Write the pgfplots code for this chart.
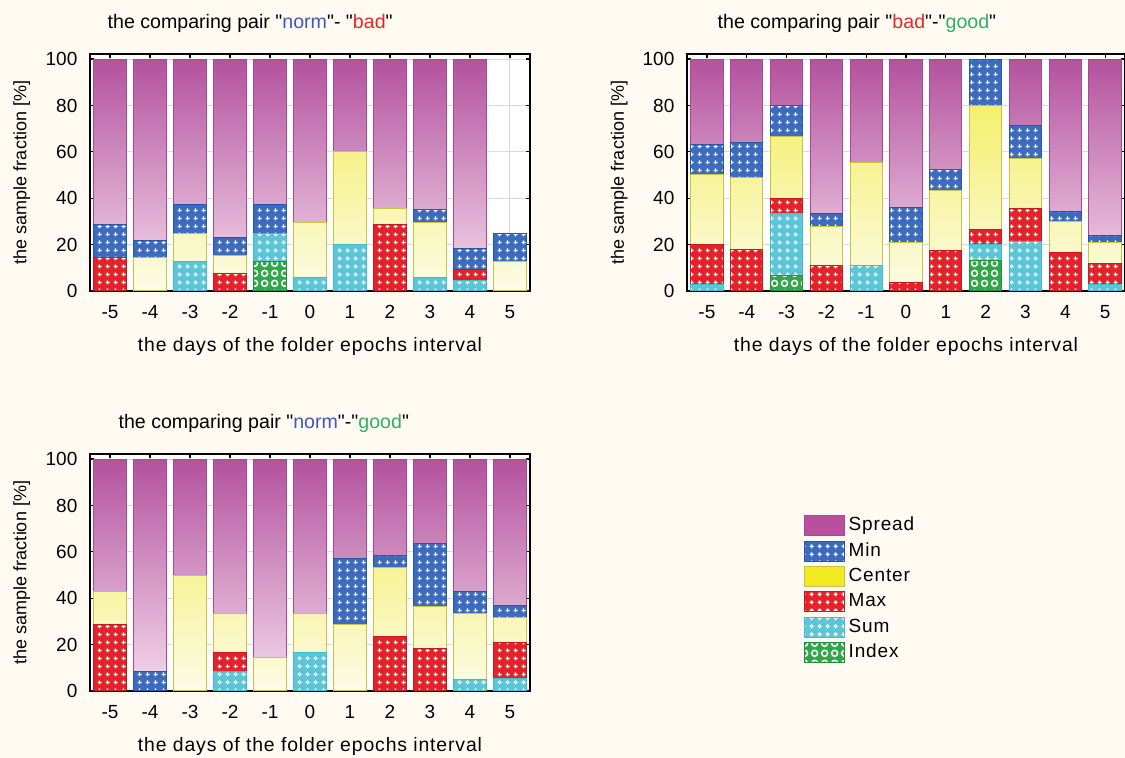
\documentclass[border=0pt]{standalone}
\usepackage{fontspec}
\setmainfont{Liberation Sans}[Ligatures=TeXOff]
\newfontfamily\widefont{Liberation Sans}[Ligatures=TeXOff, LetterSpace=4.5]
\usepackage{pgfplots}
\usepackage{pgfplotstable}
\pgfplotsset{compat=1.18}
\usetikzlibrary{patterns.meta}

\definecolor{bgc}{HTML}{FFFBF2}
\definecolor{spreadtop}{HTML}{B24F9C}
\definecolor{spreadmid}{HTML}{C571AE}
\definecolor{spreadbot}{HTML}{F4DAEC}
\definecolor{spreadb}{HTML}{A9479C}
\definecolor{spreadleg}{HTML}{B8509F}
\definecolor{minc}{HTML}{3A6BC0}
\definecolor{minb}{HTML}{2A55A8}
\definecolor{centop}{HTML}{F2EC4A}
\definecolor{cenmid}{HTML}{F6F3A0}
\definecolor{cenbot}{HTML}{FCFBE6}
\definecolor{cenb}{HTML}{C9C243}
\definecolor{cenleg}{HTML}{F2EA20}
\definecolor{maxc}{HTML}{E8202A}
\definecolor{maxb}{HTML}{C41A22}
\definecolor{sumc}{HTML}{5CC6D8}
\definecolor{sumb}{HTML}{3DBCCC}
\definecolor{idxc}{HTML}{30A848}
\definecolor{idxb}{HTML}{20903A}
\definecolor{tblue}{HTML}{3A5AB8}
\definecolor{tred}{HTML}{E82828}
\definecolor{tgreen}{HTML}{30B060}

\pgfdeclarepattern{
  name=plusgrid,
  type=uncolored,
  bottom left={\pgfpoint{0pt}{0pt}},
  top right={\pgfpoint{4pt}{4pt}},
  tile size={\pgfpoint{4pt}{4pt}},
  code={
    \pgfsetlinewidth{0.7pt}
    \pgfpathmoveto{\pgfpoint{0.9pt}{2pt}}\pgfpathlineto{\pgfpoint{3.1pt}{2pt}}
    \pgfpathmoveto{\pgfpoint{2pt}{0.9pt}}\pgfpathlineto{\pgfpoint{2pt}{3.1pt}}
    \pgfusepath{stroke}
  }
}
\pgfdeclarepattern{
  name=ringgrid,
  type=uncolored,
  bottom left={\pgfpoint{0pt}{0pt}},
  top right={\pgfpoint{5pt}{5pt}},
  tile size={\pgfpoint{5pt}{5pt}},
  code={
    \pgfsetlinewidth{0.8pt}
    \pgfpathcircle{\pgfpoint{2.5pt}{2.5pt}}{1.6pt}
    \pgfusepath{stroke}
  }
}

% columns: x, Index, Sum, Max, Center, Min, Spread  (stacked bottom to top)
\pgfplotstableread{
x  idx  sum  max  cen  min  spr
-5 0    0    14.3 0    14.3 71.4
-4 0    0    0    14.3 7.4  78.3
-3 0    12.5 0    12.5 12.5 62.5
-2 0    0    7.7  7.7  7.7  76.9
-1 12.5 12.5 0    0    12.5 62.5
0  0    5.9  0    23.5 0    70.6
1  0    20   0    40   0    40
2  0    0    28.6 7.1  0    64.3
3  0    5.9  0    23.5 5.9  64.7
4  0    4.5  4.6  0    9.1  81.8
5  0    0    0    12.5 12.5 0
}\tabA
\pgfplotstableread{
x  idx  sum  max  cen  min  spr
-5 0    2.7  17.4 30.1 13   36.8
-4 0    0    18   31   15   36
-3 6.7  26.6 6.7  26.7 13.3 20
-2 0    0    11.1 16.7 5.5  66.7
-1 0    11.1 0    44.4 0    44.5
0  0    0    3.7  17.3 15.1 63.9
1  0    0    17.4 26.1 8.7  47.8
2  13.3 6.7  6.7  53.3 20   0
3  0    21.4 14.3 21.4 14.3 28.6
4  0    0    16.5 13.4 4.5  65.6
5  0    2.7  9.2  9.1  3    76
}\tabB
\pgfplotstableread{
x  idx  sum  max  cen  min  spr
-5 0    0    28.6 14.3 0    57.1
-4 0    0    0    0    8.3  91.7
-3 0    0    0    50   0    50
-2 0    8.3  8.3  16.7 0    66.7
-1 0    0    0    14.3 0    85.7
0  0    16.7 0    16.7 0    66.6
1  0    0    0    28.6 28.6 42.8
2  0    0    23.3 30.1 5.2  41.4
3  0    0    18.2 18.2 27.3 36.3
4  0    4.8  0    28.5 9.5  57.2
5  0    5.3  15.8 10.5 5.3  63.1
}\tabC

\newcommand\fs{\fontsize{9}{10.8}\selectfont}
\newcommand\fst{\fontsize{9.8}{11.5}\selectfont}
\newcommand\fsk{\fontsize{9.5}{11}\selectfont}
\newcommand\fsx{\widefont\fontsize{9.7}{11.5}\selectfont}

\pgfplotsset{
  panel/.style={
    scale only axis, width=220pt, height=118.5pt,
    anchor=south west,
    xmin=-5.5, xmax=5.5, ymin=0, ymax=102.2,
    ybar stacked, bar width=0.81,
    xtick={-5,...,5}, ytick={0,20,...,100},
    ymajorgrids, xmajorgrids,
    grid style={black!15, line width=0.5pt},
    tick align=inside, major tick length=2pt,
    axis line style={line width=0.8pt},
    tick style={black, line width=0.6pt},
    axis background/.style={fill=white},
    /pgf/number format/assume math mode=true,
    tick label style={font=\fsk},
    xticklabel style={anchor=center, yshift=-10.5pt},
    yticklabel style={anchor=east, xshift=-2.8pt},
    ylabel={the sample fraction [\%]},
    xlabel={the days of the folder epochs interval},
    ylabel style={font=\fs, at={(axis description cs:-0.155,0.5)}, anchor=center},
    xlabel style={font=\fsx, at={(axis description cs:0.5,-0.235)}, anchor=center},
    title style={font=\fst, anchor=center, yshift=0pt},
  },
  sIdx/.style={draw=idxb, line width=0.5pt, preaction={fill=idxc}, pattern=ringgrid, pattern color=white},
  sSum/.style={draw=sumb, line width=0.5pt, preaction={fill=sumc}, pattern=plusgrid, pattern color=white},
  sMax/.style={draw=maxb, line width=0.5pt, preaction={fill=maxc}, pattern=plusgrid, pattern color=white},
  sMin/.style={draw=minb, line width=0.5pt, preaction={fill=minc}, pattern=plusgrid, pattern color=white},
  sCen/.style={draw=cenb, line width=0.5pt, fill=cenmid,
    path picture={\shade[path picture={}, draw=none, top color=centop, middle color=cenmid, bottom color=cenbot] (rel axis cs:0,0) rectangle (rel axis cs:1,1);}},
  sSpr/.style={draw=spreadb, line width=0.5pt, fill=spreadmid,
    path picture={\shade[path picture={}, draw=none, top color=spreadtop, middle color=spreadmid, bottom color=spreadbot] (rel axis cs:0,0) rectangle (rel axis cs:1,1);}},
}

\newcommand\allbars[1]{%
  \addplot[sIdx, forget plot] table[x=x, y=idx] {#1};
  \addplot[sSum, forget plot] table[x=x, y=sum] {#1};
  \addplot[sMax, forget plot] table[x=x, y=max] {#1};
  \addplot[sCen, forget plot] table[x=x, y=cen] {#1};
  \addplot[sMin, forget plot] table[x=x, y=min] {#1};
  \addplot[sSpr, forget plot] table[x=x, y=spr] {#1};
}

\begin{document}
\begin{tikzpicture}
\fill[bgc] (0pt,0pt) rectangle (562.5pt,379pt);
\path[use as bounding box] (0pt,0pt) rectangle (562.5pt,379pt);

\begin{axis}[panel, at={(45pt,233.5pt)},
  title={the comparing pair "\textcolor{tblue}{norm}"- "\textcolor{tred}{bad}"},
  title style={at={(axis description cs:0.364,1.08)}}]
\allbars{\tabA}
\end{axis}

\begin{axis}[panel, at={(343.5pt,233.5pt)}, width=219pt,
  title={the comparing pair "\textcolor{tred}{bad}"-"\textcolor{tgreen}{good}"},
  title style={at={(axis description cs:0.388,1.08)}}]
\allbars{\tabB}
\end{axis}

\begin{axis}[panel, at={(45pt,33.5pt)},
  title={the comparing pair "\textcolor{tblue}{norm}"-"\textcolor{tgreen}{good}"},
  title style={at={(axis description cs:0.395,1.08)}},
  legend image code/.code={\draw[#1] (-1pt,-5pt) rectangle (19pt,5pt);},
  legend style={draw=none, fill=none, font=\widefont\fontsize{9.5}{11}\selectfont,
    at={(axis description cs:1.621,0.745)},
    anchor=north west, row sep=1.65pt, inner sep=0pt,
    nodes={inner ysep=1pt, text height=7pt, text depth=2pt}},
  legend cell align=left]
\allbars{\tabC}
\addlegendimage{draw=spreadb, line width=0.5pt, fill=spreadleg}
\addlegendentry{Spread}
\addlegendimage{sMin}
\addlegendentry{Min}
\addlegendimage{draw=cenb, line width=0.5pt, fill=cenleg}
\addlegendentry{Center}
\addlegendimage{sMax}
\addlegendentry{Max}
\addlegendimage{sSum}
\addlegendentry{Sum}
\addlegendimage{sIdx}
\addlegendentry{Index}
\end{axis}
\end{tikzpicture}
\end{document}
